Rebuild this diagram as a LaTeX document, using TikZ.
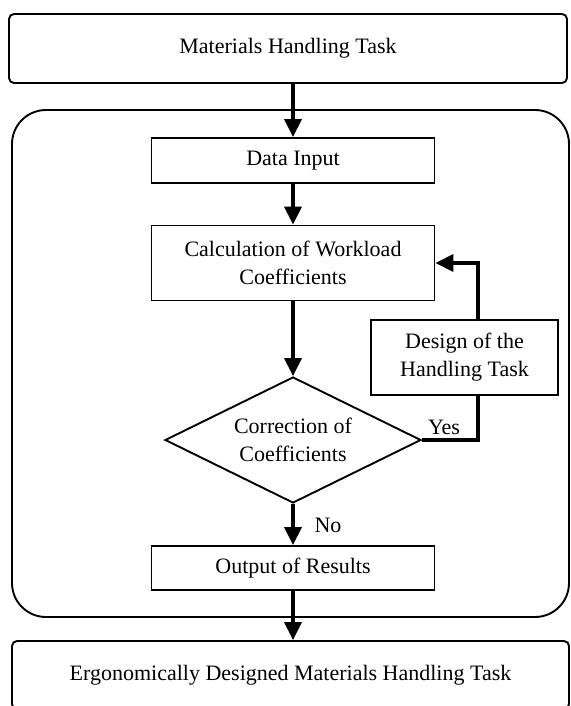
\documentclass[tikz,border=0pt]{standalone}
\usepackage{fontspec}
\setmainfont{Liberation Serif}
\usetikzlibrary{arrows.meta,shapes.geometric}

\begin{document}
\begin{tikzpicture}[x=1pt,y=-1pt,
    every node/.style={font=\fontsize{22}{28}\selectfont},
    stage/.style={draw,line width=1.9pt,rounded corners=5pt,minimum width=558pt,minimum height=69pt},
    block/.style={draw,line width=1.9pt,align=center,minimum width=283pt},
    test/.style={draw,diamond,shape aspect=2,line width=1.9pt,align=center,inner sep=0pt,minimum width=256pt,minimum height=126pt},
    flow/.style={line width=3.8pt,-{Triangle[length=18pt,width=17pt]}},
    link/.style={line width=3.8pt}]
  \useasboundingbox (0,0) rectangle (570,706);
  \node[stage] (task) at (288,48.5) {Materials Handling Task};
  \node[draw,line width=1.9pt,rounded corners=34pt,minimum width=557pt,minimum height=507pt] (frame) at (290.5,363.5) {};
  \node[block,minimum height=45pt] (din) at (293,160.5) {Data Input};
  \node[block,minimum height=75pt] (calc) at (293,263) {Calculation of Workload\\Coefficients};
  \node[test] (corr) at (293,440) {Correction of\\Coefficients};
  \node[block,minimum width=187pt,minimum height=75pt] (design) at (464.5,357.5) {Design of the\\Handling Task};
  \node[block,minimum height=44pt] (output) at (293,568) {Output of Results};
  \node[stage,minimum width=557pt,minimum height=68pt] (goal) at (290.5,675) {Ergonomically Designed Materials Handling Task};
  \coordinate (bend) at (478,263);
  \node (yes) at (444,427) {Yes};
  \node (no) at (328,525) {No};
  \draw[flow] (din |- task.south) -- (din);
  \draw[flow] (din) -- (calc);
  \draw[flow] (calc) -- (corr);
  \draw[link] (corr.east) -| (design.south -| bend);
  \draw[flow] (design.north -| bend) |- (calc);
  \draw[flow] (corr) -- (output);
  \draw[flow] (output) -- (output |- goal.north);
\end{tikzpicture}
\end{document}
